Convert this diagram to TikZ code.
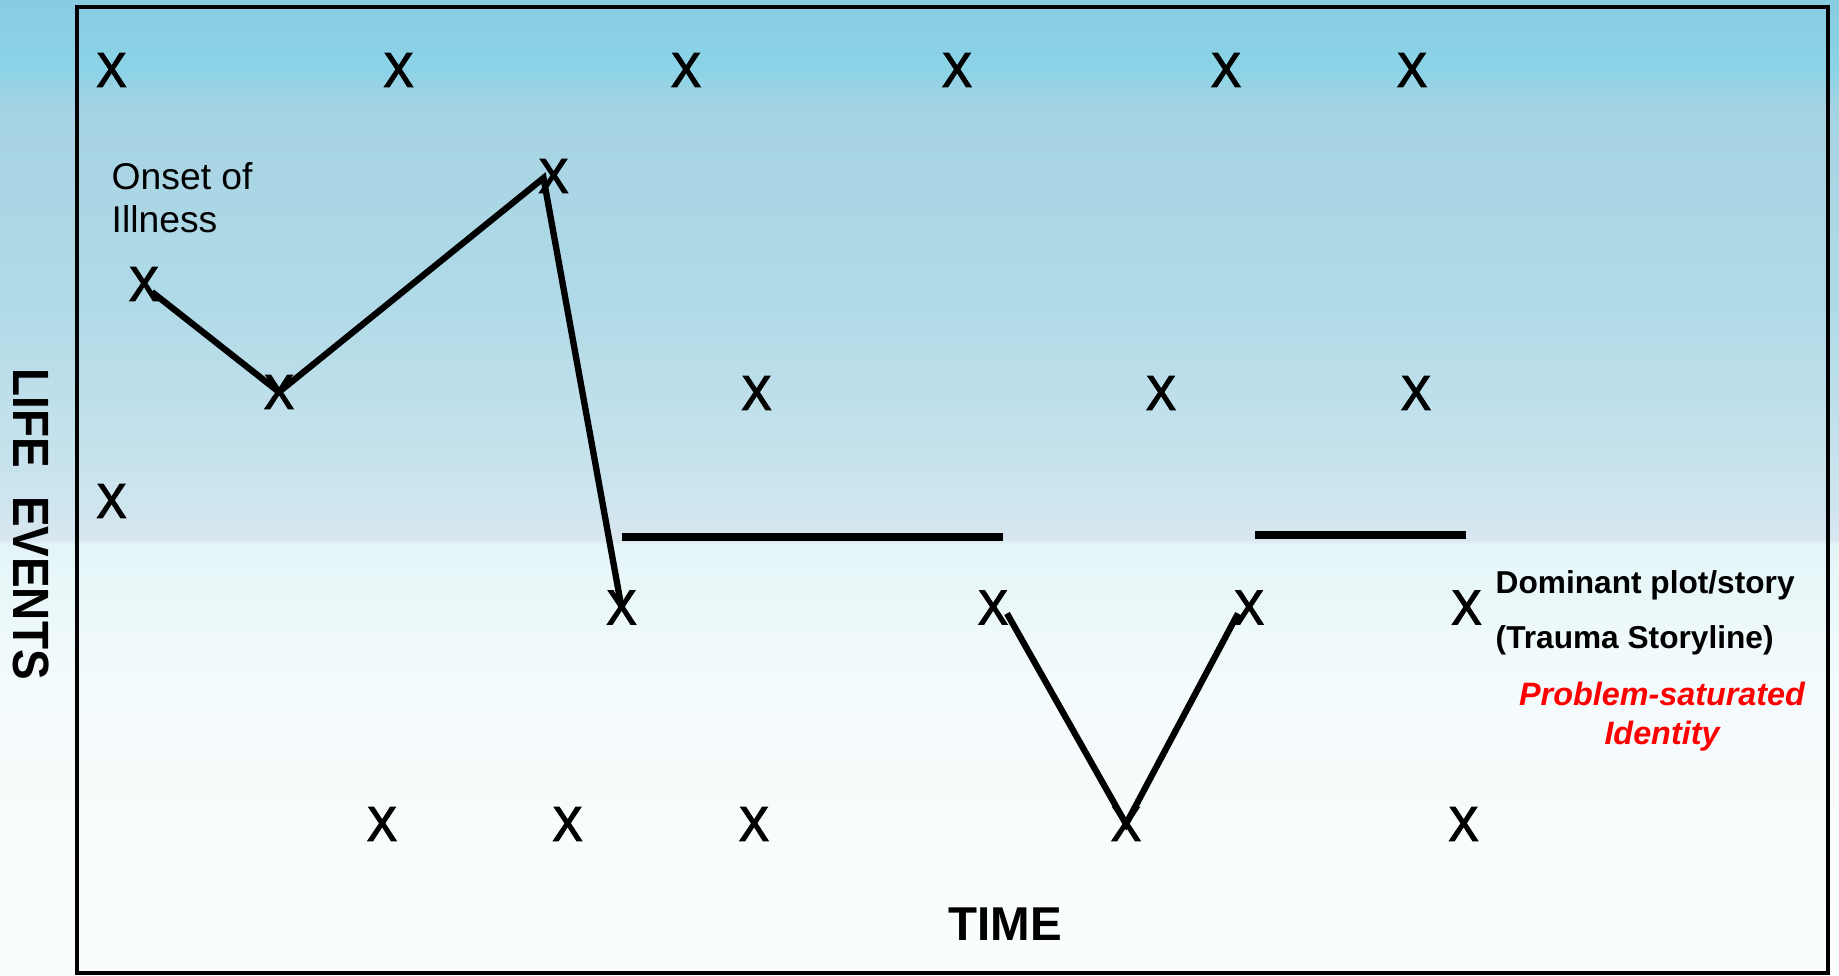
\documentclass[tikz,border=0pt]{standalone}
\usepackage{fontspec}
\usepackage{graphicx}
\setmainfont{Liberation Sans}
\newfontfamily\xmarkfont[FakeBold=3]{Liberation Sans}
\usetikzlibrary{calc}
\definecolor{bgA}{HTML}{88CCE2}
\definecolor{bgB}{HTML}{8BD3E7}
\definecolor{bgC}{HTML}{A6D3E3}
\definecolor{bgD}{HTML}{B0DAE7}
\definecolor{bgE}{HTML}{CDE5EE}
\definecolor{bgF}{HTML}{D9E6F0}
\definecolor{bgG}{HTML}{E4F5F7}
\definecolor{bgH}{HTML}{F4FBFC}
\definecolor{bgI}{HTML}{FAFDFD}
\definecolor{redtext}{HTML}{FF0000}
\pgfdeclareverticalshading{skybg}{100bp}{color(0bp)=(bgI); color(25bp)=(bgI); color(40bp)=(bgH); color(47.1bp)=(bgG); color(47.35bp)=(bgF); color(49.5bp)=(bgE); color(59.5bp)=(bgD); color(69.5bp)=(bgC); color(71.5bp)=(bgB); color(75bp)=(bgA); color(100bp)=(bgA)}
\newcommand{\xm}{\scalebox{0.92}[1]{X}}
\begin{document}
\begin{tikzpicture}[x=0.01cm,y=-0.01cm,
  xmark/.style={font=\xmarkfont\fontsize{13.8}{13.8}\selectfont, inner sep=0pt},
  plotline/.style={line width=1.8pt, black},
  flatline/.style={line width=2pt, black},
  framebox/.style={line width=1.1pt, black}]
\useasboundingbox (0,0) rectangle (1839,976);
\shade[shading=skybg] (0,0) rectangle (1839,976);
\draw[framebox] (77,7) rectangle (1828,973);

% row 1
\node[xmark] (a1) at (111.5,70) {\xm};
\node[xmark] (a2) at (398.5,70) {\xm};
\node[xmark] (a3) at (686,70) {\xm};
\node[xmark] (a4) at (957,70) {\xm};
\node[xmark] (a5) at (1226,70) {\xm};
\node[xmark] (a6) at (1412,70) {\xm};
% plot points
\node[xmark] (onset) at (144,284) {\xm};
\node[xmark] (peak) at (553.5,176) {\xm};
\node[xmark] (valley) at (279,392) {\xm};
\node[xmark] (b2) at (756.5,393) {\xm};
\node[xmark] (b3) at (1161,393) {\xm};
\node[xmark] (b4) at (1416,393) {\xm};
\node[xmark] (c1) at (111.5,501) {\xm};
% row at 607
\node[xmark] (d1) at (621.5,607.5) {\xm};
\node[xmark] (d2) at (993,607.5) {\xm};
\node[xmark] (d3) at (1249,607.5) {\xm};
\node[xmark] (d4) at (1466.5,607.5) {\xm};
% bottom row
\node[xmark] (e1) at (382,824) {\xm};
\node[xmark] (e2) at (567.5,824) {\xm};
\node[xmark] (e3) at (754,824) {\xm};
\node[xmark] (e4) at (1126,824) {\xm};
\node[xmark] (e5) at (1463.5,824) {\xm};

% texts (base anchor = baseline of the last line)
\node[anchor=base west, inner sep=0pt, align=left, font=\fontsize{10.6}{12.3}\selectfont] (onsettext) at (111,233) {Onset of\\Illness};
\node[anchor=base west, inner sep=0pt, align=left, font=\bfseries\fontsize{9}{15.6}\selectfont] (dom) at (1495,648) {Dominant plot/story\\(Trauma Storyline)};
\node[anchor=base, inner sep=0pt, align=center, text=redtext, font=\bfseries\itshape\fontsize{9.2}{11}\selectfont] (ident) at (1662,744) {Problem-saturated\\Identity};
\node[anchor=base, inner sep=0pt, font=\bfseries\fontsize{13.5}{16}\selectfont] (time) at (1005,940) {TIME};
\node[rotate=-90, inner sep=0pt, font=\bfseries\fontsize{14.5}{16}\selectfont] (life) at (31.5,524) {\scalebox{0.9}[1]{LIFE\hspace{0.62em}EVENTS}};

% story line
\draw[plotline] ($(onset.center)+(8,8)$) -- (valley.center) -- ($(peak.center)+(-10,2)$) -- (d1.center);
\draw[plotline] ($(d2.center)+(14,6)$) -- (e4.center) -- ($(d3.center)+(-11,6)$);
% flat segments
\coordinate (h1s) at (622,537);
\coordinate (h1e) at (1003,537);
\coordinate (h2s) at (1255,535);
\coordinate (h2e) at (1466,535);
\draw[flatline] (h1s) -- (h1e);
\draw[flatline] (h2s) -- (h2e);
\end{tikzpicture}
\end{document}
